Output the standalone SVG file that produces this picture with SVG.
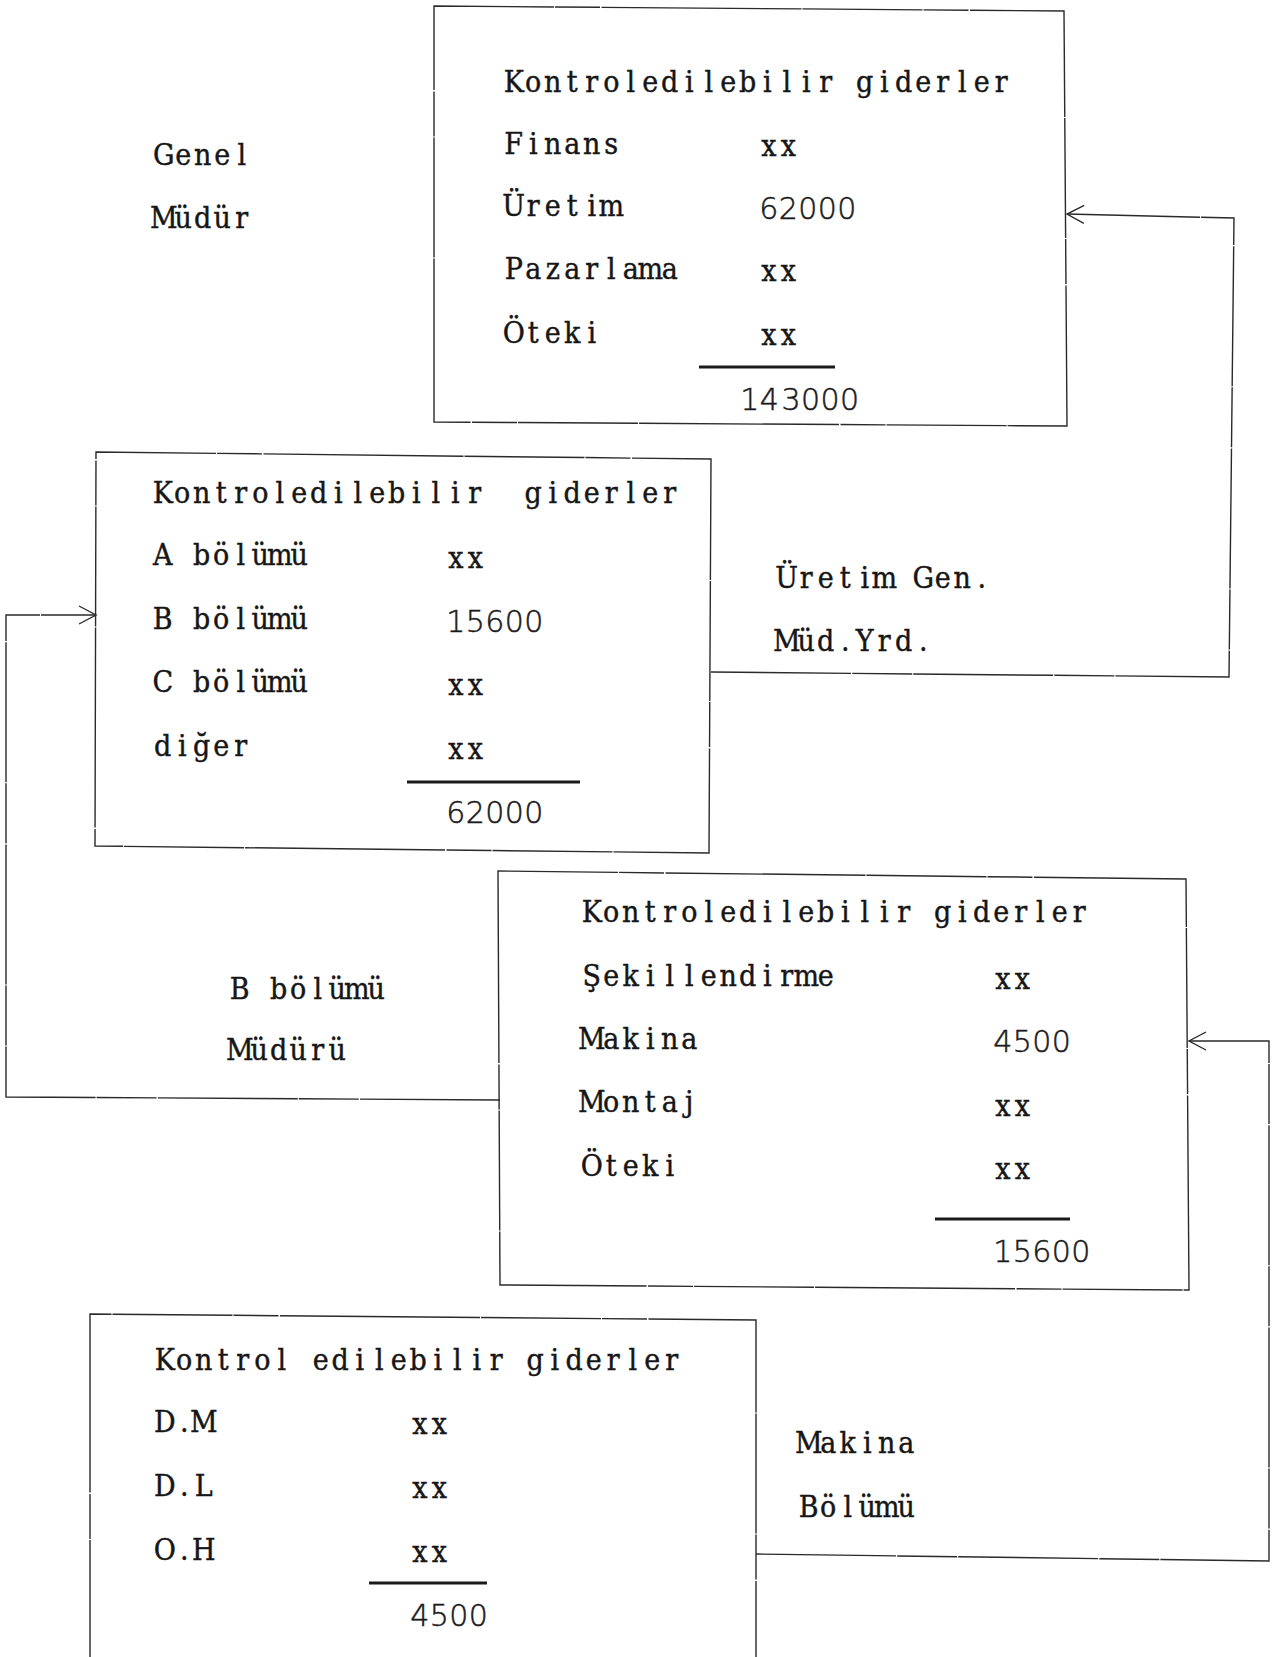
<svg xmlns="http://www.w3.org/2000/svg" width="1282" height="1657" viewBox="0 0 1282 1657">
  <style>
    /* typewriter text: serif glyphs centred in fixed 19.5px cells (x lists are in the squeezed space) */
    .t { font-family: "DejaVu Serif", "Liberation Serif", serif; font-size: 30px; fill: #161616; stroke: #161616; stroke-width: 0.45; text-anchor: middle; }
    .n { font-family: "DejaVu Sans", "Liberation Sans", sans-serif; font-weight: 200; font-size: 30px; fill: #1a1a1a; stroke: #1a1a1a; stroke-width: 0.5; text-anchor: middle; }
    .box { fill: none; stroke: #2a2a2a; stroke-width: 1.4; stroke-dasharray: 120 1 45 1.5 200 1; }
    .rule { stroke: #1a1a1a; stroke-width: 3; }
    .wire { fill: none; stroke: #2a2a2a; stroke-width: 1.4; stroke-dasharray: 140 1.2 60 1; }
  </style>
  <defs>
    <marker id="arrow" markerUnits="userSpaceOnUse" markerWidth="30" markerHeight="30" viewBox="-20 -15 30 30" refX="0" refY="0" orient="auto">
      <path d="M-17,-9 L0,0 L-17,9" fill="none" stroke="#2a2a2a" stroke-width="1.4"/>
    </marker>
  </defs>
  <rect width="1282" height="1657" fill="#ffffff"/>

  <!-- General manager: controllable costs summary -->
  <g id="genel-mudur">
    <path class="box" d="M434,6 L1064,11 L1067,426 L434,422 Z"/>
    <text class="t" transform="translate(504,92) scale(0.9,1)" x="10.83 32.5 54.17 75.83 97.5 119.17 140.83 162.5 184.17 205.83 227.5 249.17 270.83 292.5 314.17 335.83 357.5 379.17 400.83 422.5 444.17 465.83 487.5 509.17 530.83 552.5 574.17" y="0">Kontroledilebilir giderler</text>
    <text class="t" transform="translate(504,154) scale(0.9,1)" x="10.83 32.5 54.17 75.83 97.5 119.17" y="0">Finans</text>
    <text class="t" transform="translate(759,156) scale(0.9,1)" x="10.83 32.5" y="0">xx</text>
    <text class="t" transform="translate(504,216) scale(0.9,1)" x="10.83 32.5 54.17 75.83 97.5 119.17" y="0">Üretim</text>
    <text class="n" transform="translate(759,219)" x="9.75 29.25 48.75 68.25 87.75" y="0">62000</text>
    <text class="t" transform="translate(504,279) scale(0.9,1)" x="10.83 32.5 54.17 75.83 97.5 119.17 140.83 162.5 184.17" y="0">Pazarlama</text>
    <text class="t" transform="translate(759,281) scale(0.9,1)" x="10.83 32.5" y="0">xx</text>
    <text class="t" transform="translate(504,343) scale(0.9,1)" x="10.83 32.5 54.17 75.83 97.5" y="0">Öteki</text>
    <text class="t" transform="translate(759,345) scale(0.9,1)" x="10.83 32.5" y="0">xx</text>
    <line class="rule" x1="699" y1="367" x2="835" y2="367"/>
    <text class="n" transform="translate(740,410)" x="9.75 29.25 51 70.5 90 109.5" y="0">143000</text>
  </g>
  <g id="label-genel-mudur">
    <text class="t" transform="translate(154,165) scale(0.9,1)" x="10.83 32.5 54.17 75.83 97.5" y="0">Genel</text>
    <text class="t" transform="translate(154,228) scale(0.9,1)" x="10.83 32.5 54.17 75.83 97.5" y="0">Müdür</text>
  </g>

  <!-- Production deputy GM -->
  <g id="uretim-gen-mud-yrd">
    <path class="box" d="M96,452 L711,459 L709,853 L95,846 Z"/>
    <text class="t" transform="translate(153,503) scale(0.9,1)" xml:space="preserve" x="10.83 32.5 54.17 75.83 97.5 119.17 140.83 162.5 184.17 205.83 227.5 249.17 270.83 292.5 314.17 335.83 357.5 379.17 400.83 422.5 444.17 465.83 487.5 509.17 530.83 552.5 574.17" y="0">Kontroledilebilir  giderler</text>
    <text class="t" transform="translate(153,565) scale(0.9,1)" x="10.83 32.5 54.17 75.83 97.5 119.17 140.83 162.5" y="0">A bölümü</text>
    <text class="t" transform="translate(446,568) scale(0.9,1)" x="10.83 32.5" y="0">xx</text>
    <text class="t" transform="translate(153,629) scale(0.9,1)" x="10.83 32.5 54.17 75.83 97.5 119.17 140.83 162.5" y="0">B bölümü</text>
    <text class="n" transform="translate(446,632)" x="9.75 29.25 48.75 68.25 87.75" y="0">15600</text>
    <text class="t" transform="translate(153,692) scale(0.9,1)" x="10.83 32.5 54.17 75.83 97.5 119.17 140.83 162.5" y="0">C bölümü</text>
    <text class="t" transform="translate(446,695) scale(0.9,1)" x="10.83 32.5" y="0">xx</text>
    <text class="t" transform="translate(153,756) scale(0.9,1)" x="10.83 32.5 54.17 75.83 97.5" y="0">diğer</text>
    <text class="t" transform="translate(446,759) scale(0.9,1)" x="10.83 32.5" y="0">xx</text>
    <line class="rule" x1="407" y1="782" x2="580" y2="782"/>
    <text class="n" transform="translate(446,823)" x="9.75 29.25 48.75 68.25 87.75" y="0">62000</text>
  </g>
  <g id="label-uretim">
    <text class="t" transform="translate(777,588) scale(0.9,1)" x="10.83 32.5 54.17 75.83 97.5 119.17 140.83 162.5 184.17 205.83 227.5" y="0">Üretim Gen.</text>
    <text class="t" transform="translate(777,651) scale(0.9,1)" x="10.83 32.5 54.17 75.83 97.5 119.17 140.83 162.5" y="0">Müd.Yrd.</text>
  </g>

  <!-- Department B manager -->
  <g id="b-bolumu-muduru">
    <path class="box" d="M498,871 L1186,879 L1189,1290 L500,1285 Z"/>
    <text class="t" transform="translate(582,922) scale(0.9,1)" x="10.83 32.5 54.17 75.83 97.5 119.17 140.83 162.5 184.17 205.83 227.5 249.17 270.83 292.5 314.17 335.83 357.5 379.17 400.83 422.5 444.17 465.83 487.5 509.17 530.83 552.5" y="0">Kontroledilebilir giderler</text>
    <text class="t" transform="translate(582,986) scale(0.9,1)" x="10.83 32.5 54.17 75.83 97.5 119.17 140.83 162.5 184.17 205.83 227.5 249.17 270.83" y="0">Şekillendirme</text>
    <text class="t" transform="translate(993,989) scale(0.9,1)" x="10.83 32.5" y="0">xx</text>
    <text class="t" transform="translate(582,1049) scale(0.9,1)" x="10.83 32.5 54.17 75.83 97.5 119.17" y="0">Makina</text>
    <text class="n" transform="translate(993,1052)" x="9.75 29.25 48.75 68.25" y="0">4500</text>
    <text class="t" transform="translate(582,1112) scale(0.9,1)" x="10.83 32.5 54.17 75.83 97.5 119.17" y="0">Montaj</text>
    <text class="t" transform="translate(993,1116) scale(0.9,1)" x="10.83 32.5" y="0">xx</text>
    <text class="t" transform="translate(582,1176) scale(0.9,1)" x="10.83 32.5 54.17 75.83 97.5" y="0">Öteki</text>
    <text class="t" transform="translate(993,1179) scale(0.9,1)" x="10.83 32.5" y="0">xx</text>
    <line class="rule" x1="935" y1="1219" x2="1070" y2="1219"/>
    <text class="n" transform="translate(993,1262)" x="9.75 29.25 48.75 68.25 87.75" y="0">15600</text>
  </g>
  <g id="label-b-bolumu">
    <text class="t" transform="translate(230,999) scale(0.9,1)" x="10.83 32.5 54.17 75.83 97.5 119.17 140.83 162.5" y="0">B bölümü</text>
    <text class="t" transform="translate(230,1060) scale(0.9,1)" x="10.83 32.5 54.17 75.83 97.5 119.17" y="0">Müdürü</text>
  </g>

  <!-- Machining department -->
  <g id="makina-bolumu">
    <path class="box" d="M90,1660 L90,1314 L756,1320 L756,1660"/>
    <text class="t" transform="translate(155,1370) scale(0.9,1)" x="10.83 32.5 54.17 75.83 97.5 119.17 140.83 162.5 184.17 205.83 227.5 249.17 270.83 292.5 314.17 335.83 357.5 379.17 400.83 422.5 444.17 465.83 487.5 509.17 530.83 552.5 574.17" y="0">Kontrol edilebilir giderler</text>
    <text class="t" transform="translate(155,1432) scale(0.9,1)" x="10.83 32.5 54.17" y="0">D.M</text>
    <text class="t" transform="translate(410,1434) scale(0.9,1)" x="10.83 32.5" y="0">xx</text>
    <text class="t" transform="translate(155,1496) scale(0.9,1)" x="10.83 32.5 54.17" y="0">D.L</text>
    <text class="t" transform="translate(410,1498) scale(0.9,1)" x="10.83 32.5" y="0">xx</text>
    <text class="t" transform="translate(155,1560) scale(0.9,1)" x="10.83 32.5 54.17" y="0">O.H</text>
    <text class="t" transform="translate(410,1562) scale(0.9,1)" x="10.83 32.5" y="0">xx</text>
    <line class="rule" x1="369" y1="1583" x2="487" y2="1583"/>
    <text class="n" transform="translate(410,1626)" x="9.75 29.25 48.75 68.25" y="0">4500</text>
  </g>
  <g id="label-makina">
    <text class="t" transform="translate(799,1453) scale(0.9,1)" x="10.83 32.5 54.17 75.83 97.5 119.17" y="0">Makina</text>
    <text class="t" transform="translate(799,1517) scale(0.9,1)" x="10.83 32.5 54.17 75.83 97.5 119.17" y="0">Bölümü</text>
  </g>

  <!-- Reporting lines: each total rolls up into the level above -->
  <g id="connectors">
    <path class="wire" d="M711,672 L1229,677 L1234,218 L1067,214" marker-end="url(#arrow)"/>
    <path class="wire" d="M500,1100 L6,1097 L6,615 L96,615" marker-end="url(#arrow)"/>
    <path class="wire" d="M756,1554 L1269,1561 L1269,1041 L1189,1041" marker-end="url(#arrow)"/>
  </g>
</svg>
